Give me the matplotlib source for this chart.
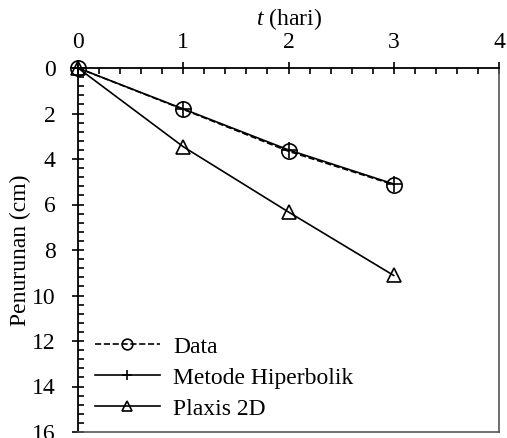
import matplotlib
matplotlib.use("Agg")
import matplotlib.pyplot as plt
from matplotlib.ticker import MultipleLocator

plt.rcParams['font.family'] = ['Liberation Serif', 'DejaVu Serif']
plt.rcParams['mathtext.fontset'] = 'custom'
plt.rcParams['mathtext.it'] = 'Liberation Serif:italic'
plt.rcParams['mathtext.rm'] = 'Liberation Serif'

t = [0, 1, 2, 3]
data_vals = [0, 1.82, 3.66, 5.13]
hiper_vals = [0, 1.80, 3.60, 5.10]
plaxis_vals = [0, 3.46, 6.33, 9.12]
labels = ['Data', 'Metode Hiperbolik', 'Plaxis 2D']

FS = 17

fig = plt.figure(figsize=(5.07, 4.38), dpi=100)
ax = fig.add_axes([78/507, 1-432/438, (499-78)/507, (432-68)/438])

ax.plot(t, data_vals, linestyle='--', color='black', lw=1.2, marker='o', ms=11,
        mfc='none', mec='black', mew=1.2, label=labels[0], clip_on=False, zorder=3)
ax.plot(t, hiper_vals, linestyle='-', color='black', lw=1.2, marker='+', ms=11,
        mew=1.2, label=labels[1], clip_on=False, zorder=3)
ax.plot(t, plaxis_vals, linestyle='-', color='black', lw=1.2, marker='^', ms=10,
        mfc='none', mec='black', mew=1.2, label=labels[2], clip_on=False, zorder=3)

ax.set_xlim(0, 4)
ax.set_ylim(16, 0)
ax.xaxis.set_major_locator(MultipleLocator(1))
ax.xaxis.set_minor_locator(MultipleLocator(0.2))
ax.yaxis.set_major_locator(MultipleLocator(2))
ax.yaxis.set_minor_locator(MultipleLocator(0.4))
ax.xaxis.tick_top()
ax.xaxis.set_label_position('top')
ax.tick_params(axis='both', which='major', direction='inout', length=8, width=1.2,
               labelsize=FS)
ax.tick_params(axis='x', which='major', pad=7)
ax.tick_params(axis='y', which='major', pad=12)
ax.tick_params(axis='both', which='minor', direction='in', length=4, width=1.2)
ax.tick_params(axis='x', which='both', top=True, bottom=False)
ax.tick_params(axis='y', which='both', left=True, right=False)

for s in ['top', 'left']:
    ax.spines[s].set_linewidth(1.3)
    ax.spines[s].set_color('black')
for s in ['right', 'bottom']:
    ax.spines[s].set_linewidth(1.2)
    ax.spines[s].set_color('#555555')

ax.set_xlabel('$t$ (hari)', fontsize=FS, labelpad=5)
ax.set_ylabel('Penurunan (cm)', fontsize=FS, labelpad=0.5)

leg = ax.legend(loc='lower left', frameon=False, fontsize=FS, handlelength=2.75,
                labelspacing=0.4, handletextpad=0.55, borderaxespad=0.0,
                markerscale=0.7, bbox_to_anchor=(0.018, 0.008))

fig.savefig('out.png', dpi=100)
